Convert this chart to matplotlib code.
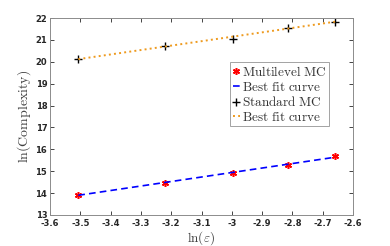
import matplotlib
matplotlib.use("Agg")
import matplotlib.pyplot as plt
import numpy as np

plt.rcParams['mathtext.fontset'] = 'cm'

ln_eps = [-3.5066, -3.2189, -2.9957, -2.8134, -2.6593]
mlmc = [13.91, 14.48, 14.91, 15.28, 15.71]
std_mc = [20.12, 20.74, 21.03, 21.54, 21.82]
fit_x = [-3.5066, -2.6593]
mlmc_fit = [13.90, 15.64]
std_fit = [20.12, 21.83]

fig = plt.figure(figsize=(3.9, 2.46), dpi=100)
ax = fig.add_axes([50/390, 31/246, 303/390, 197/246])

l1, = ax.plot(ln_eps, mlmc, linestyle='none', marker=(6, 2, 0), color='red',
              markersize=5, markeredgewidth=1.1, label=r'$\mathrm{Multilevel\ MC}$')
l2, = ax.plot(fit_x, mlmc_fit, '--', color='blue', lw=1.2, dashes=(4, 2.5),
              label=r'$\mathrm{Best\ fit\ curve}$')
l3, = ax.plot(ln_eps, std_mc, linestyle='none', marker='+', color='black',
              markersize=6, markeredgewidth=1.0, label=r'$\mathrm{Standard\ MC}$')
l4, = ax.plot(fit_x, std_fit, ':', color='#EE9A1E', lw=1.4,
              label=r'$\mathrm{Best\ fit\ curve}$')

ax.set_xlim(-3.6, -2.6)
ax.set_ylim(13, 22)
ax.set_xticks(np.arange(-3.6, -2.55, 0.1))
ax.set_xticklabels(['-3.6', '-3.5', '-3.4', '-3.3', '-3.2', '-3.1', '-3', '-2.9', '-2.8', '-2.7', '-2.6'])
ax.set_yticks(range(13, 23))
ax.tick_params(direction='in', top=True, right=True, length=3, width=0.6,
               labelsize=6, pad=2, colors='#262626')
ax.tick_params(axis='x', pad=3)
for lab in ax.get_xticklabels() + ax.get_yticklabels():
    lab.set_fontweight('bold')
for s in ax.spines.values():
    s.set_color('#8c8c8c')
    s.set_linewidth(0.7)

ax.set_xlabel(r'$\ln(\varepsilon)$', fontsize=9.5, labelpad=0.5, color='#404040')
ax.set_ylabel(r'$\ln(\mathrm{Complexity})$', fontsize=10, labelpad=1.5, color='#404040')

leg = ax.legend(handles=[l1, l2, l3, l4], loc='upper right', bbox_to_anchor=(0.92, 0.775),
                fontsize=9.5, frameon=True, fancybox=False, handlelength=0.5,
                handletextpad=0.15, borderpad=0.2, labelspacing=0.12, borderaxespad=0)
leg.get_frame().set_edgecolor('#8c8c8c')
leg.get_frame().set_linewidth(0.7)
for t in leg.get_texts():
    t.set_color('#333333')

fig.savefig('out.png', dpi=100)
